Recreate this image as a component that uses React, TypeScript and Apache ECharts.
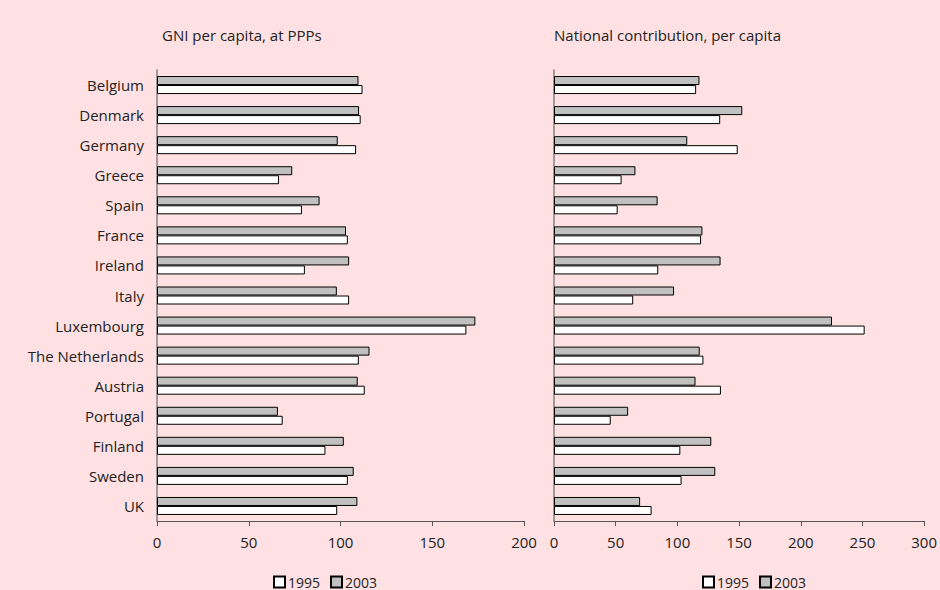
import React, { useEffect, useRef } from "react";
import * as echarts from "echarts";

const countries = [
  "Belgium",
  "Denmark",
  "Germany",
  "Greece",
  "Spain",
  "France",
  "Ireland",
  "Italy",
  "Luxembourg",
  "The Netherlands",
  "Austria",
  "Portugal",
  "Finland",
  "Sweden",
  "UK",
];

// GNI per capita at PPPs (EU average = 100)
const gni1995 = [112, 111, 108.5, 66.5, 79, 104, 80.6, 104.7, 168.6, 110, 113.2, 68.5, 91.8, 104, 98.2];
const gni2003 = [109.8, 110.1, 98.5, 73.7, 88.6, 103, 104.7, 98, 173.5, 115.8, 109.4, 65.9, 101.8, 107.2, 109.2];

// National contribution per capita (EU average = 100)
const contrib1995 = [115.2, 134.7, 148.9, 54.8, 51.6, 119.2, 84.5, 64.2, 251.8, 121.1, 135.3, 46, 102.4, 103.4, 79.1];
const contrib2003 = [117.9, 152.6, 108, 66, 84, 120.3, 135, 97.3, 225.3, 118.1, 114.7, 60.1, 127.5, 130.7, 69.8];

const years = ["1995", "2003"];
const titles = ["GNI per capita, at PPPs", "National contribution, per capita"];

const FONT = "'Open Sans', 'DejaVu Sans', sans-serif";
const FS = 15;
const TEXT = "#222";
const BG = "#FFE1E3";
const GREY_BAR = "#C0C0C0";

export default function App() {
  const ref = useRef<HTMLDivElement>(null);

  useEffect(() => {
    if (!ref.current) return;
    const chart = echarts.init(ref.current, null, { renderer: "svg" });

    const grids = [
      { left: 157, top: 70, width: 367, height: 451 },
      { left: 554, top: 70, width: 374, height: 451 },
    ];

    const xAxis = [200, 300].map((max, i) => ({
      type: "value" as const,
      gridIndex: i,
      min: 0,
      max,
      interval: 50,
      splitLine: { show: false },
      axisLine: { show: true, lineStyle: { color: "#555", width: 1 } },
      axisTick: { show: true, length: 5, lineStyle: { color: "#555" } },
      axisLabel: { color: TEXT, fontFamily: FONT, fontSize: FS, margin: 13 },
    }));

    const yAxis = [0, 1].map((i) => ({
      type: "category" as const,
      gridIndex: i,
      data: countries,
      inverse: true,
      axisLine: { show: true, lineStyle: { color: "#808080", width: 1.5 } },
      axisTick: { show: false },
      axisLabel: {
        show: i === 0,
        color: TEXT,
        fontFamily: FONT,
        fontSize: FS,
        margin: 13,
      },
    }));

    const barStyle = (color: string) => ({
      color,
      borderColor: "#000",
      borderWidth: 1,
    });

    const series = [
      { name: "2003", data: gni2003, idx: 0, color: GREY_BAR },
      { name: "1995", data: gni1995, idx: 0, color: "#FFFFFF" },
      { name: "2003", data: contrib2003, idx: 1, color: GREY_BAR },
      { name: "1995", data: contrib1995, idx: 1, color: "#FFFFFF" },
    ].map((s) => ({
      type: "bar" as const,
      name: s.name,
      xAxisIndex: s.idx,
      yAxisIndex: s.idx,
      data: s.data,
      barWidth: 9,
      barGap: "0%",
      itemStyle: barStyle(s.color),
    }));

    const legendBase = {
      orient: "horizontal" as const,
      data: years,
      itemWidth: 11,
      itemHeight: 11,
      itemGap: 10,
      padding: 0,
      selectedMode: false,
      textStyle: {
        color: TEXT,
        fontFamily: FONT,
        fontSize: 14,
        lineHeight: 14,
        padding: [0, 0, 0, -2],
      },
      icon: "rect",
    };

    chart.setOption({
      animation: false,
      backgroundColor: BG,
      title: titles.map((t, i) => ({
        text: t,
        left: i === 0 ? 157 : 549,
        top: 22,
        textStyle: { color: TEXT, fontFamily: FONT, fontSize: FS, fontWeight: "normal" },
      })),
      legend: [
        { ...legendBase, left: 273, top: 575 },
        { ...legendBase, left: 702, top: 575 },
      ],
      grid: grids,
      xAxis,
      yAxis,
      series,
    });

    return () => chart.dispose();
  }, []);

  return (
    <div
      ref={ref}
      style={{ width: 940, height: 590, position: "absolute", left: 0, top: 0 }}
    />
  );
}
